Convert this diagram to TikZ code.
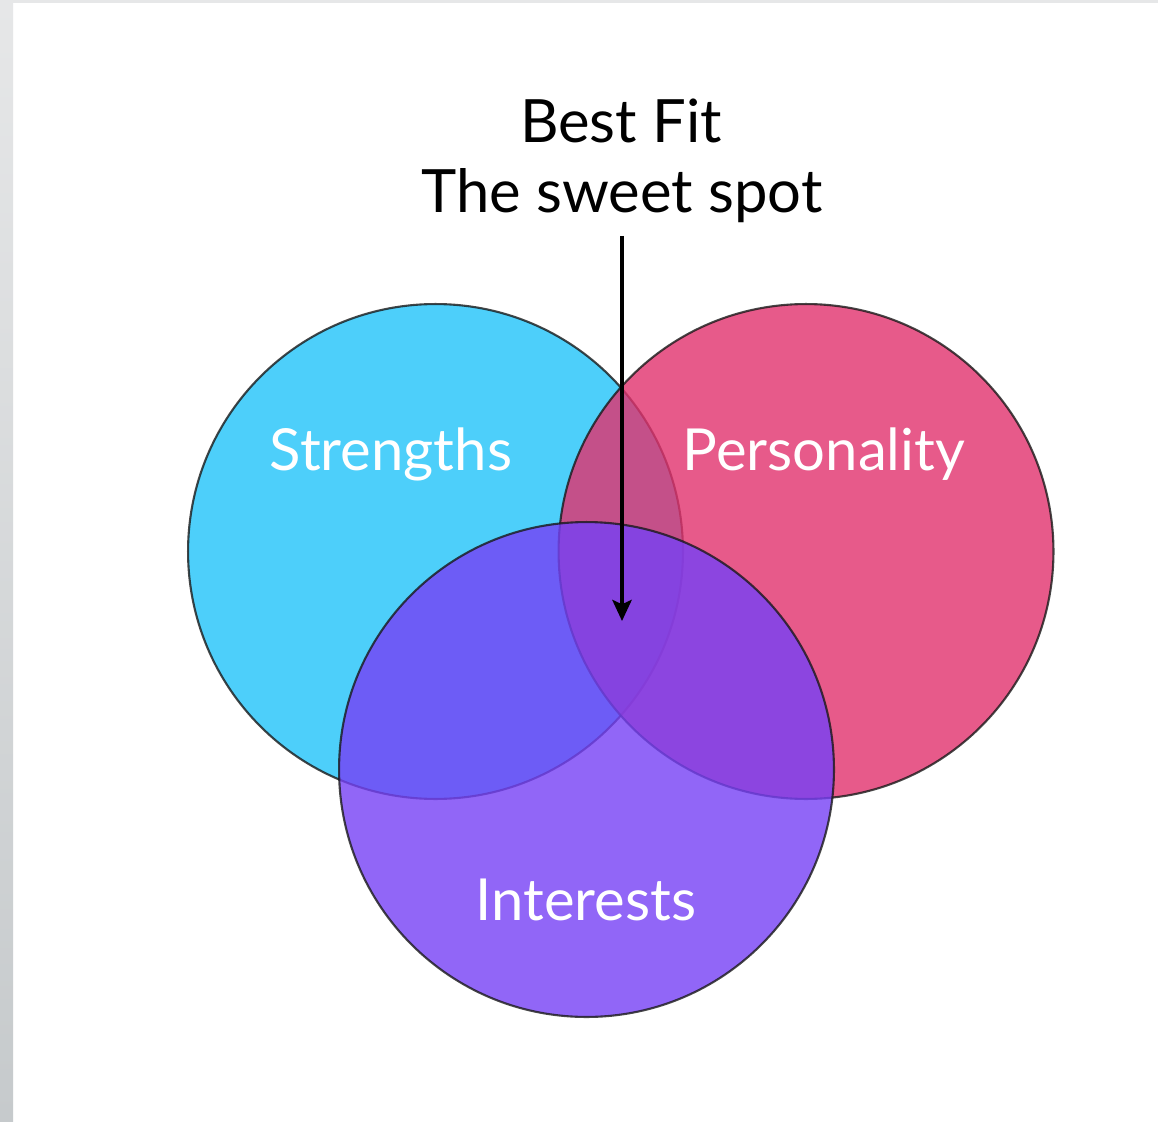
\documentclass[tikz,border=0pt]{standalone}
\usepackage{fontspec}
\setmainfont{Lato}
\usetikzlibrary{arrows.meta}
\definecolor{strengthblue}{RGB}{33,196,249}
\definecolor{personpink}{RGB}{226,49,109}
\definecolor{interestpurple}{RGB}{118,64,246}
\definecolor{sidegraytop}{RGB}{230,231,232}
\definecolor{sidegraybot}{RGB}{198,202,204}
\tikzset{
	venn/.style={circle, minimum size=9.9cm, inner sep=0pt, draw=black!90, line width=1.2pt, draw opacity=0.8, fill opacity=0.8},
	vennlabel/.style={anchor=base, text=white, font=\fontsize{33}{40}\selectfont},
	titletext/.style={anchor=base, inner sep=7pt, font=\fontsize{34}{40}\selectfont},
}
\begin{document}
\begin{tikzpicture}[x=0.02cm,y=-0.02cm]
	\useasboundingbox (0,0) rectangle (1158,1121);
	\fill[white] (0,0) rectangle (1158,1121);
	\shade[top color=sidegraytop, bottom color=sidegraybot] (0,0) rectangle (13,1121);
	\fill[sidegraytop] (13,0) rectangle (1158,3);
	\node[venn, fill=strengthblue] (strengths) at (435.5,551.5) {};
	\node[venn, fill=personpink] (personality) at (806,551.5) {};
	\node[venn, fill=interestpurple] (interests) at (586.5,769.5) {};
	\node[vennlabel] (strengthstext) at (391,470) {Strengths};
	\node[vennlabel] (personalitytext) at (824,470) {Personality};
	\node[vennlabel] (intereststext) at (586,920) {Interests};
	\node[titletext] (bestfit) at (621,143) {Best Fit};
	\node[titletext] (sweetspot) at (622,213) {The sweet spot};
	\coordinate (bestspot) at (622,621);
	\draw[-{Stealth[length=12pt,width=11pt,inset=2.5pt]}, line width=2.1pt] (sweetspot.south) -- (bestspot);
\end{tikzpicture}
\end{document}
